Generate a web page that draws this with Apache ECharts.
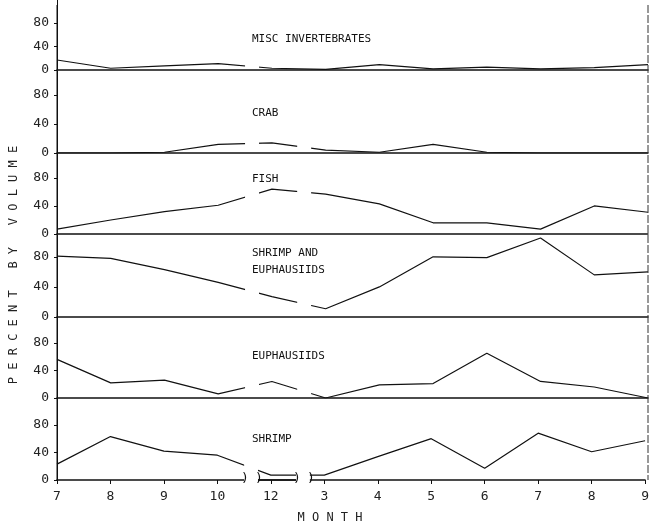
<!DOCTYPE html>
<html><head><meta charset="utf-8">
<script src="https://cdn.jsdelivr.net/npm/echarts@6/dist/echarts.min.js"></script>
<style>html,body{margin:0;padding:0;background:#fff}#c{width:652px;height:528px}</style>
</head><body><div id="c"></div>
<script>
const monthLabels = ['7','8','9','10','12','3','4','5','6','7','8','9'];
const panelNames = ['MISC INVERTEBRATES','CRAB','FISH','SHRIMP AND\nEUPHAUSIIDS','EUPHAUSIIDS','SHRIMP'];
const misc   = [17,3,7,11,3,1,9,2,5,2,4,9];
const crab   = [0,0,1,12,14,4,1,12,1,0,0,0];
const fish   = [7,20,32,41,64,57,43,16,16,7,40,31];
const shrEup = [81,78,63,46,27,11,40,80,79,105,56,60];
const euph   = [56,22,26,6,24,0,19,21,65,24,16,0];
const shrimp = [23,63,42,36,7,7,34,60,17,68,41,57];
const seriesData = [misc,crab,fish,shrEup,euph,shrimp];
const panelMax = [119,113,117,109,119,119];

const zeros = [70,153,234,317,398,480];
const H = 82;
const font = 'DejaVu Sans Mono';
const chart = echarts.init(document.getElementById('c'));
const grids=[],xAxes=[],yAxes=[],series=[];
seriesData.forEach((d,i)=>{
  grids.push({left:57,right:4,top:zeros[i]-H,height:H});
  const last = i===5;
  xAxes.push({type:'value',gridIndex:i,min:0,max:11,interval:1,
    axisLine:{show:true,onZero:false,lineStyle:{color:'#111',width:1.5}},
    axisTick:{show:last,length:4,inside:false,lineStyle:{color:'#111'}},
    axisLabel:{show:last,color:'#222',fontFamily:font,fontSize:13,margin:10,formatter:v=>monthLabels[v]},
    splitLine:{show:false}});
  yAxes.push({type:'value',gridIndex:i,min:0,max:panelMax[i],interval:40,
    axisLine:{show:true,lineStyle:{color:'#111',width:1}},
    axisTick:{show:true,length:3,lineStyle:{color:'#111'}},
    axisLabel:{color:'#222',fontFamily:font,fontSize:13,margin:8,showMaxLabel:false},
    splitLine:{show:false}});
  series.push({type:'line',xAxisIndex:i,yAxisIndex:i,showSymbol:false,symbol:'none',
    data:d.map((v,k)=>[k,v]),lineStyle:{color:'#111',width:1.2},animation:false});
});
chart.setOption({animation:false,grid:grids,xAxis:xAxes,yAxis:yAxes,series});

const g=[];
const breaks=[[3.5,3.76],[4.47,4.73]];
seriesData.forEach((d,i)=>{
  breaks.forEach(b=>{
    const p1=chart.convertToPixel({gridIndex:i},[b[0],0]);
    const p2=chart.convertToPixel({gridIndex:i},[b[1],0]);
    g.push({type:'rect',z:100,shape:{x:p1[0],y:zeros[i]-H+2,width:p2[0]-p1[0],height:H-(i===5?-3:4)},style:{fill:'#fff'}});
    if(i===5){
      g.push({type:'text',z:101,x:p1[0]-3,y:zeros[i]-8,style:{text:')',font:'13px '+font,fill:'#111'}});
      g.push({type:'text',z:101,x:p2[0]-3,y:zeros[i]-8,style:{text:')',font:'13px '+font,fill:'#111'}});
      g.push({type:'line',z:101,shape:{x1:p2[0],y1:zeros[i],x2:(breaks[1]===b?p2[0]:chart.convertToPixel({gridIndex:i},[breaks[1][0],0])[0]),y2:zeros[i]},style:{stroke:'#111',lineWidth:1.5}});
    }
  });
  const t=chart.convertToPixel({gridIndex:i},[3.7,0]);
  const lines=panelNames[i].split('\n');
  lines.forEach((ln,k)=>{
    g.push({type:'text',z:102,x:252,y:[40,114,180,254,357,440][i]-6+k*17,style:{text:ln,font:'11px '+font,fill:'#111'}});
  });
});
g.push({type:'line',z:102,shape:{x1:648,y1:5,x2:648,y2:480},style:{stroke:'#333',lineWidth:1,lineDash:[8,2]}});
g.push({type:'line',z:102,shape:{x1:57,y1:5,x2:57,y2:480},style:{stroke:'#111',lineWidth:1}});
g.push({type:'text',z:102,x:330,y:518,style:{text:'M O N T H',font:'12px '+font,fill:'#222',align:'center',verticalAlign:'middle'}});
g.push({type:'text',z:102,x:14,y:265,rotation:Math.PI/2,style:{text:'P E R C E N T   B Y   V O L U M E',font:'12px '+font,fill:'#222',align:'center',verticalAlign:'middle'}});
chart.setOption({graphic:g});
</script></body></html>
